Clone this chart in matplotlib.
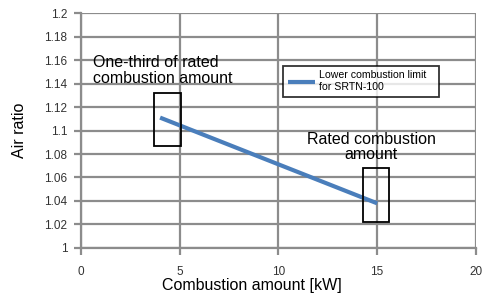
import matplotlib
matplotlib.use('Agg')
import matplotlib.pyplot as plt
from matplotlib.patches import Rectangle

# data
power_kw = [4.0, 15.0]
air_ratio = [1.111, 1.038]
series_label = 'Lower combustion limit   \nfor SRTN-100'
x_ticks = [0, 5, 10, 15, 20]
y_ticks = [1, 1.02, 1.04, 1.06, 1.08, 1.1, 1.12, 1.14, 1.16, 1.18, 1.2]
y_tick_labels = ['1', '1.02', '1.04', '1.06', '1.08', '1.1', '1.12', '1.14', '1.16', '1.18', '1.2']

plt.rcParams['font.family'] = ['Liberation Sans', 'DejaVu Sans']

fig = plt.figure(figsize=(4.86, 2.98), dpi=100)
ax = fig.add_axes([0.167, 0.168, 0.812, 0.788])

grid_col = '#8c8c8c'
ax.plot(power_kw, air_ratio, color='#4a7ebb', lw=3, label=series_label,
        solid_capstyle='butt', zorder=3)

ax.set_xlim(0, 20)
ax.set_ylim(1, 1.2)
ax.set_xticks(x_ticks)
ax.set_yticks(y_ticks)
ax.set_yticklabels(y_tick_labels)
ax.grid(True, color=grid_col, lw=1.6)
ax.set_axisbelow(True)
for side in ['top', 'right']:
    ax.spines[side].set_visible(False)
for side in ['left', 'bottom']:
    ax.spines[side].set_color(grid_col)
    ax.spines[side].set_linewidth(1.6)
ax.tick_params(axis='both', direction='out', length=5, width=1.6,
               color=grid_col, labelsize=8.5, labelcolor='#333333')
ax.tick_params(axis='x', pad=8)
ax.tick_params(axis='y', pad=5)

ax.set_xlabel('Combustion amount [kW]', fontsize=11.5)
ax.xaxis.set_label_coords(0.433, -0.13)
ax.set_ylabel('Air ratio', fontsize=11.5)
ax.yaxis.set_label_coords(-0.137, 0.5)

# highlight boxes
ax.add_patch(Rectangle((3.68, 1.087), 1.38, 0.045, fill=False, ec='black', lw=1.3, zorder=4))
ax.add_patch(Rectangle((14.3, 1.022), 1.3, 0.046, fill=False, ec='black', lw=1.3, zorder=4))

ax.text(0.6, 1.164, 'One-third of rated\ncombustion amount', fontsize=11.5,
        ha='left', va='top', linespacing=1.05)
ax.text(14.7, 1.099, 'Rated combustion\namount', fontsize=11.5,
        ha='center', va='top', linespacing=1.05)

leg = ax.legend(loc='upper left', bbox_to_anchor=(0.511, 0.776), fontsize=7.6,
                frameon=True, fancybox=False, handlelength=2.6,
                borderpad=0.45, handletextpad=0.35, borderaxespad=0)
leg.get_frame().set_edgecolor('black')
leg.get_frame().set_linewidth(1.3)

fig.savefig('out.png', dpi=100)
